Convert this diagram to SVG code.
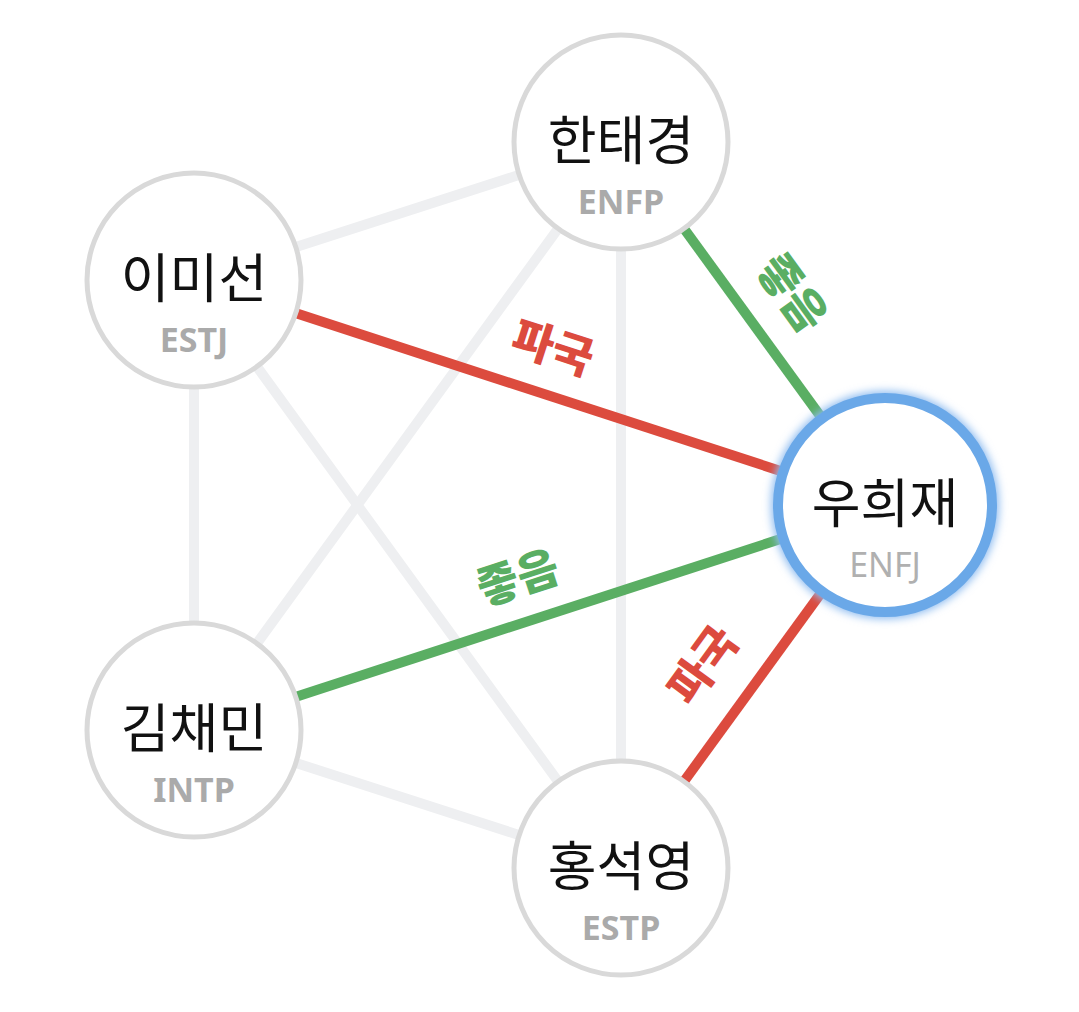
<svg xmlns="http://www.w3.org/2000/svg" width="1079" height="1012" viewBox="0 0 1079 1012">
<defs>
<style>
.edge{stroke:#eeeff1;stroke-width:10;fill:none}
.good{stroke:#5aae63;stroke-width:10;fill:none}
.bad{stroke:#dc4b3e;stroke-width:10;fill:none}
.node{fill:#ffffff;stroke:#d9d9d9;stroke-width:5}
.me{fill:#ffffff;stroke:#6aa8e8;stroke-width:10}
.name{font-family:"Noto Sans CJK KR","Noto Sans",sans-serif;font-size:53px;font-weight:400;fill:#111111;text-anchor:middle}
.mbti{font-family:"Noto Sans","Open Sans",sans-serif;font-size:34px;font-weight:bold;fill:#aaaaaa;text-anchor:middle}
.mbti2{font-family:"Noto Sans","Open Sans",sans-serif;font-size:34px;fill:#b0b0b0;text-anchor:middle}
.lbl{font-family:"Noto Sans CJK KR",sans-serif;font-size:45px;font-weight:900;text-anchor:middle}
</style>
<filter id="glow" x="-30%" y="-30%" width="160%" height="160%">
<feGaussianBlur stdDeviation="4"/>
</filter>
</defs>
<rect width="1079" height="1012" fill="#ffffff"/>
<g id="connectors">
<line class="edge" x1="621" y1="142" x2="194" y2="280"/>
<line class="edge" x1="621" y1="142" x2="194" y2="730"/>
<line class="edge" x1="621" y1="142" x2="621" y2="868"/>
<line class="edge" x1="194" y1="280" x2="194" y2="730"/>
<line class="edge" x1="194" y1="280" x2="621" y2="868"/>
<line class="edge" x1="194" y1="730" x2="621" y2="868"/>
<line class="good" x1="621" y1="142" x2="885" y2="505"/>
<line class="bad" x1="194" y1="280" x2="885" y2="505"/>
<line class="good" x1="194" y1="730" x2="885" y2="505"/>
<line class="bad" x1="621" y1="868" x2="885" y2="505"/>
<text class="lbl" fill="#dc4b3e" transform="translate(553,348) rotate(18)" y="16">파국</text>
<text class="lbl" fill="#5aae63" transform="translate(792,293) rotate(54)" y="16">좋음</text>
<text class="lbl" fill="#5aae63" transform="translate(518,578) rotate(-18)" y="16">좋음</text>
<text class="lbl" fill="#dc4b3e" transform="translate(703,665) rotate(-54)" y="16">파국</text>
</g>
<g id="node-hantaegyeong">
<circle class="node" cx="621" cy="142" r="107"/>
<text class="name" x="621" y="160">한태경</text>
<text class="mbti" x="621" y="214">ENFP</text>
</g>
<g id="node-imiseon">
<circle class="node" cx="194" cy="280" r="107"/>
<text class="name" x="194" y="298">이미선</text>
<text class="mbti" x="194" y="352">ESTJ</text>
</g>
<g id="node-gimchaemin">
<circle class="node" cx="194" cy="730" r="107"/>
<text class="name" x="194" y="748">김채민</text>
<text class="mbti" x="194" y="802">INTP</text>
</g>
<g id="node-hongseokyeong">
<circle class="node" cx="621" cy="868" r="107"/>
<text class="name" x="621" y="886">홍석영</text>
<text class="mbti" x="621" y="940">ESTP</text>
</g>
<g id="node-uhuijae">
<circle cx="885" cy="505" r="107" fill="none" stroke="#8ebcf0" stroke-width="14" filter="url(#glow)"/>
<circle class="me" cx="885" cy="505" r="107"/>
<text class="name" x="885" y="523">우희재</text>
<text class="mbti2" x="885" y="577">ENFJ</text>
</g>
</svg>
